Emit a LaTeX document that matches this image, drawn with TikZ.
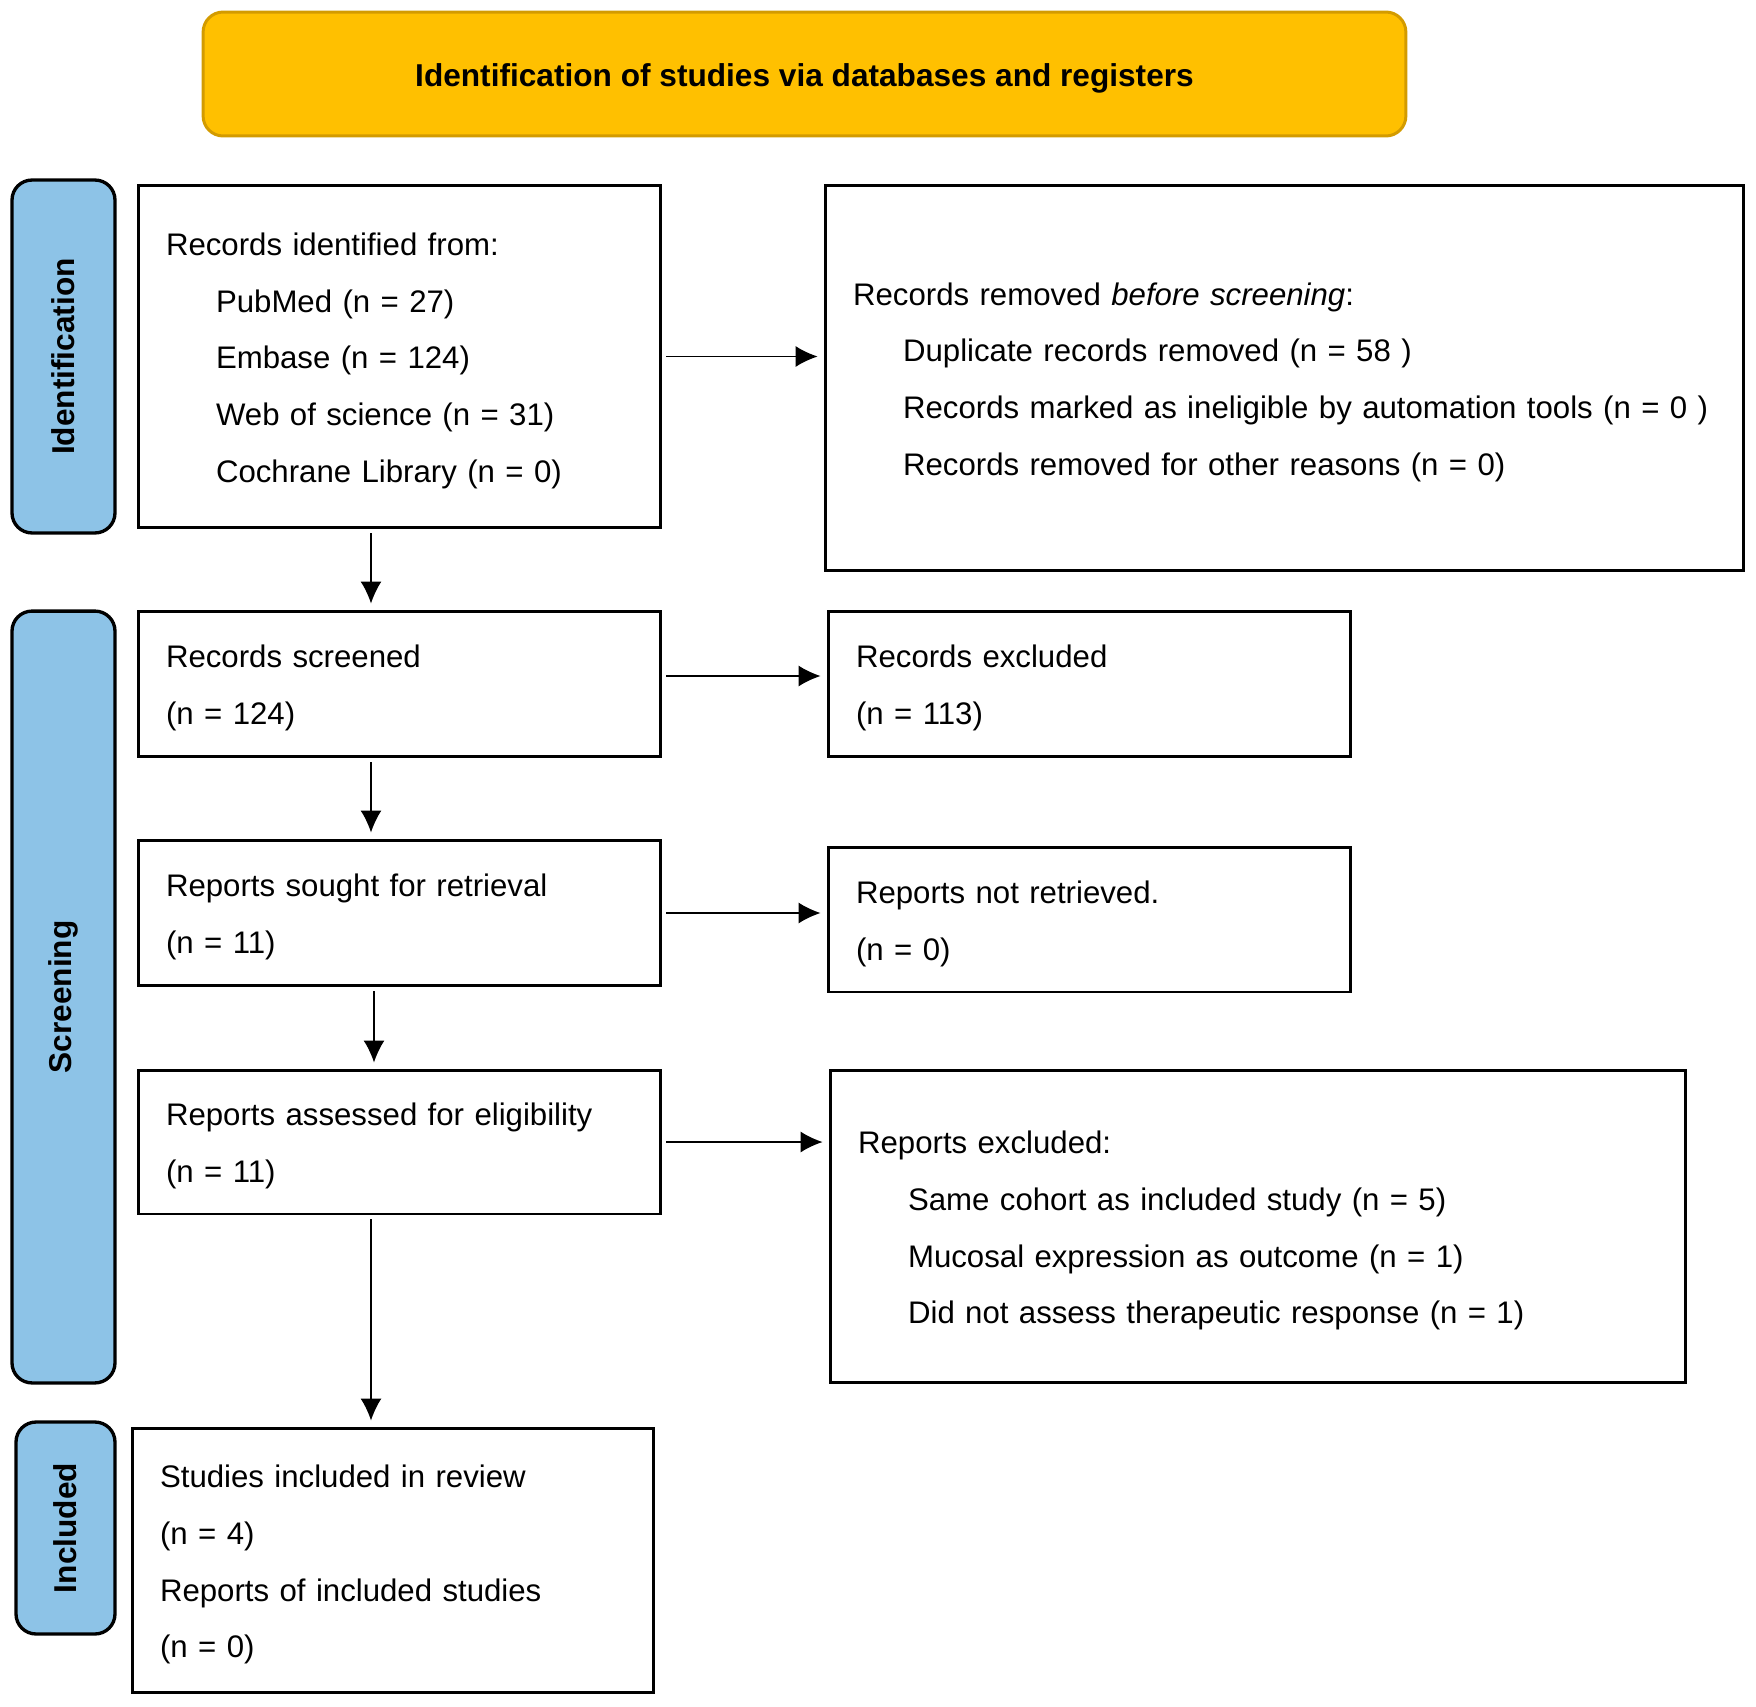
\documentclass[tikz,border=0pt]{standalone}
\usepackage{fontspec}
\setmainfont{Liberation Sans}
\usetikzlibrary{arrows.meta}

\tikzset{
  box/.style={draw, rectangle, line width=1.7pt, align=left,
    inner xsep=0.56cm, inner ysep=0pt,
    execute at begin node={\rule{0pt}{0.62cm}},
    font=\fontsize{17.75}{32.3}\selectfont},
  side/.style={draw, rectangle, line width=1.9pt, rounded corners=0.4cm,
    fill=col_side, rotate=90, inner sep=0pt,
    font=\bfseries\fontsize{18}{20}\selectfont},
  arr/.style={-{Latex[length=0.44cm,width=0.42cm]}, line width=0.8pt,
    shorten <=0.08cm, shorten >=0.12cm},
}

\begin{document}
\begin{tikzpicture}[x=0.02cm,y=-0.02cm]
%
\definecolor{col_head}{rgb}{1.0,0.753,0.0}
\definecolor{col_head_line}{rgb}{0.827,0.608,0.0}
\definecolor{col_side}{rgb}{0.553,0.765,0.906}
%
\useasboundingbox (0,0) rectangle (1756,1707);
%
% header
\node[draw=col_head_line, fill=col_head, line width=1.7pt, rounded corners=0.4cm,
  minimum width=24.06cm, minimum height=2.48cm, text height=0.64cm, text depth=0.13cm,
  font=\bfseries\fontsize{18}{20}\selectfont] (head) at (804.5,74)
  {Identification of studies via databases and registers};
%
% side labels
\node[side, minimum width=7.06cm, minimum height=2.06cm] (s_idf) at (63.5,356.5) {Identification};
\node[side, minimum width=15.44cm, minimum height=2.06cm] (s_scr) at (63.5,997) {Screening};
\node[side, minimum width=4.24cm, minimum height=1.98cm] (s_inc) at (65.5,1528) {Included};
%
% left column
\node[box, text width=9.34cm, minimum height=6.86cm] (b_rec) at (399.5,356.5)
  {Records identified from:\\
   \hspace*{1cm}PubMed (n = 27)\\
   \hspace*{1cm}Embase (n = 124)\\
   \hspace*{1cm}Web of science (n = 31)\\
   \hspace*{1cm}Cochrane Library (n = 0)};
\node[box, text width=9.34cm, minimum height=2.92cm] (b_scr) at (399.5,684)
  {Records screened\\(n = 124)};
\node[box, text width=9.34cm, minimum height=2.92cm] (b_sou) at (399.5,913)
  {Reports sought for retrieval\\(n = 11)};
\node[box, text width=9.34cm, minimum height=2.88cm] (b_ass) at (399.5,1142)
  {Reports assessed for eligibility\\(n = 11)};
\node[box, text width=9.32cm, minimum height=5.3cm] (b_inc) at (393,1560.5)
  {Studies included in review\\(n = 4)\\Reports of included studies\\(n = 0)};
%
% right column
\node[box, text width=17.26cm, minimum height=7.72cm] (b_rem) at (1284.5,378)
  {Records removed \textit{before screening}:\\
   \hspace*{1cm}Duplicate records removed (n = 58 )\\
   \hspace*{1cm}\mbox{Records marked as ineligible by automation tools (n = 0 )}\\
   \hspace*{1cm}Records removed for other reasons (n = 0)};
\node[box, text width=9.34cm, minimum height=2.92cm] (b_exc) at (1089.5,684)
  {Records excluded\\(n = 113)};
\node[box, text width=9.34cm, minimum height=2.9cm] (b_ret) at (1089.5,919.5)
  {Reports not retrieved.\\(n = 0)};
\node[box, text width=16cm, minimum height=6.26cm] (b_rex) at (1258,1226.5)
  {Reports excluded:\\
   \hspace*{1cm}Same cohort as included study (n = 5)\\
   \hspace*{1cm}Mucosal expression as outcome (n = 1)\\
   \hspace*{1cm}Did not assess therapeutic response (n = 1)};
%
% arrows
\draw[arr] ([xshift=-0.57cm]b_rec.south) -- ([xshift=-0.57cm]b_scr.north);
\draw[arr] ([xshift=-0.57cm]b_scr.south) -- ([xshift=-0.57cm]b_sou.north);
\draw[arr] ([xshift=-0.51cm]b_sou.south) -- ([xshift=-0.51cm]b_ass.north);
\draw[arr] ([xshift=-0.57cm]b_ass.south) -- ([xshift=-0.57cm]b_ass.south |- b_inc.north);
%
\draw[arr] (b_rec.east) -- (b_rec.east -| b_rem.west);
\draw[arr] ([yshift=0.16cm]b_scr.east) -- ([yshift=0.16cm]b_scr.east -| b_exc.west);
\draw[arr] (b_sou.east) -- (b_sou.east -| b_ret.west);
\draw[arr] (b_ass.east) -- (b_ass.east -| b_rex.west);
%
\end{tikzpicture}
\end{document}
